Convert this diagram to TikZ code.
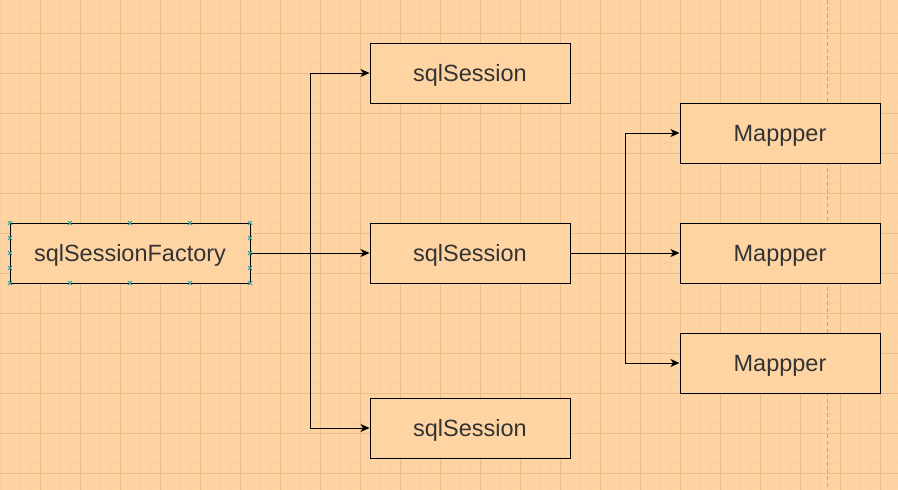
\documentclass[tikz,border=0pt]{standalone}
\usepackage{fontspec}
\setmainfont{Liberation Sans}
\usetikzlibrary{arrows.meta}
\definecolor{bg}{HTML}{FFD4A3}
\definecolor{minorgrid}{HTML}{FACE9E}
\definecolor{majorgrid}{HTML}{E9BE8C}
\definecolor{dashc}{HTML}{C9A07A}
\definecolor{txt}{HTML}{333333}
\definecolor{handle}{HTML}{2A9D9D}
\tikzset{
  box/.style={draw=black, line width=1pt, fill=bg, minimum width=200pt, minimum height=60pt,
    inner sep=0pt, text=txt, font=\fontsize{23.5}{26}\selectfont},
  lbl/.style={text=txt, font=\fontsize{23.5}{26}\selectfont, inner sep=0pt},
  conn/.style={draw=black, line width=1pt, -{Stealth[length=9pt,width=8pt,inset=2.5pt]}},
  handlemark/.style={draw=handle, line width=0.8pt},
}
\begin{document}
\begin{tikzpicture}[x=1pt,y=-1pt]
\useasboundingbox (0,0) rectangle (898,490);
\fill[bg] (0,0) rectangle (898,490);
% minor grid
\foreach \i in {0,...,89} \draw[minorgrid, line width=0.8pt] (\i*10,0) -- (\i*10,490);
\foreach \j in {0,...,48} \draw[minorgrid, line width=0.8pt] (0,3+\j*10) -- (898,3+\j*10);
% major grid
\foreach \i in {1,...,22} \draw[majorgrid, line width=1pt] (\i*40,0) -- (\i*40,490);
\foreach \j in {0,...,11} \draw[majorgrid, line width=1pt] (0,33+\j*40) -- (898,33+\j*40);
% dashed page line
\draw[dashc, line width=1pt, dash pattern=on 4pt off 3pt] (827.5,0) -- (827.5,490);

\node[box, minimum width=240pt] (f) at (130,253) {};
\node[box] (s1) at (470,73) {};
\node[box] (s2) at (470,253) {};
\node[box] (s3) at (470,428) {};
\node[box] (m1) at (780,133) {};
\node[box] (m2) at (780,253) {};
\node[box] (m3) at (780,363) {};
\node[lbl] (tf) at ([yshift=-2.5pt]f.center) {sqlSessionFactory};
\node[lbl] (t1) at ([yshift=-2.5pt]s1.center) {sqlSession};
\node[lbl] (t2) at ([yshift=-2.5pt]s2.center) {sqlSession};
\node[lbl] (t3) at ([yshift=-2.5pt]s3.center) {sqlSession};
\node[lbl] (tm1) at ([yshift=-2.5pt]m1.center) {Mappper};
\node[lbl] (tm2) at ([yshift=-2.5pt]m2.center) {Mappper};
\node[lbl] (tm3) at ([yshift=-2.5pt]m3.center) {Mappper};

\coordinate (b1) at (310.5,253);
\coordinate (b2) at (625.5,253);

\draw[conn] (f.east) -- (s2.west);
\draw[conn] (f.east) -- (b1) |- (s1.west);
\draw[conn] (f.east) -- (b1) |- (s3.west);
\draw[conn] (s2.east) -- (m2.west);
\draw[conn] (s2.east) -- (b2) |- (m1.west);
\draw[conn] (s2.east) -- (b2) |- (m3.west);

% selection handles
\foreach \x in {10,70,130,190,250} {
  \foreach \y in {223,283} {
    \draw[handlemark] (\x-2,\y-2) -- (\x+2,\y+2) (\x-2,\y+2) -- (\x+2,\y-2);
  }
}
\foreach \x in {10,250} {
  \foreach \y in {238,253,268} {
    \draw[handlemark] (\x-2,\y-2) -- (\x+2,\y+2) (\x-2,\y+2) -- (\x+2,\y-2);
  }
}
\end{tikzpicture}
\end{document}
